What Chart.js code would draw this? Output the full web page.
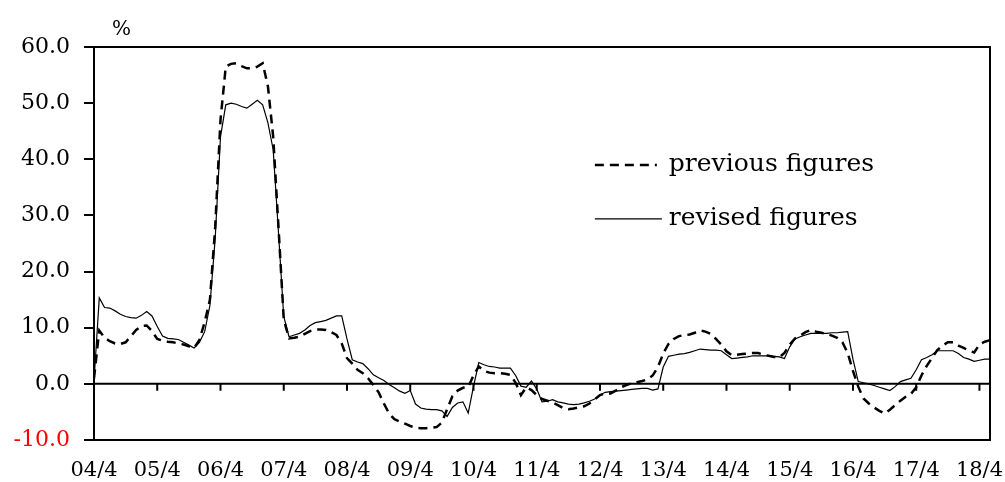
<!DOCTYPE html>
<html>
<head>
<meta charset="utf-8">
<script src="https://cdn.jsdelivr.net/npm/chart.js@4/dist/chart.umd.min.js"></script>
<style>
  html, body { margin: 0; padding: 0; background: #fff; }
  #wrap { position: relative; width: 1005px; height: 482px; }
</style>
</head>
<body>
<div id="wrap"><canvas id="grafica"></canvas></div>
<script>
// monthly data, 04/4 .. 18/6
const years = ['04','05','06','07','08','09','10','11','12','13','14','15','16','17','18'];
const tickLabels = ['04/4','05/4','06/4','07/4','08/4','09/4','10/4','11/4','12/4','13/4','14/4','15/4','16/4','17/4','18/4'];

const revised = [
  0.5, 15.3, 13.6, 13.5, 13.0, 12.4, 12.0, 11.8, 11.7, 12.2, 12.9, 12.1,
  10.2, 8.5, 8.1, 8.0, 7.9, 7.4, 6.9, 6.4, 7.4, 9.3, 14.0, 26.0,
  44.0, 49.7, 50.0, 49.8, 49.4, 49.1, 49.8, 50.5, 49.7, 46.5, 41.7, 27.0,
  12.0, 8.4, 8.7, 9.0, 9.6, 10.4, 10.9, 11.1, 11.3, 11.7, 12.1, 12.1,
  8.0, 4.3, 3.9, 3.6, 2.7, 1.6, 1.1, 0.6, -0.1, -0.7, -1.3, -1.7,
  -1.2, -3.6, -4.3, -4.5, -4.6, -4.6, -4.8, -5.8, -4.2, -3.4, -3.2, -5.2,
  -0.5, 3.8, 3.4, 3.1, 3.0, 2.8, 2.8, 2.8, 1.5, -0.4, -0.6, 0.5,
  -0.9, -3.2, -3.1, -2.8, -3.2, -3.4, -3.6, -3.7, -3.6, -3.4, -3.1, -2.7,
  -2.0, -1.5, -1.4, -1.3, -1.2, -1.1, -1.0, -0.9, -0.8, -0.8, -1.1, -0.9,
  3.0, 4.9, 5.1, 5.3, 5.4, 5.6, 5.9, 6.2, 6.1, 6.0, 6.0, 5.9,
  5.2, 4.5, 4.6, 4.7, 4.8, 5.0, 5.0, 5.0, 5.0, 4.9, 4.8, 4.5,
  6.6, 8.0, 8.4, 8.7, 9.0, 9.0, 9.0, 9.0, 9.1, 9.1, 9.2, 9.3,
  4.4, 0.4, 0.2, 0.0, -0.3, -0.6, -0.9, -1.2, -0.5, 0.4, 0.7, 1.0,
  2.5, 4.3, 4.7, 5.2, 5.9, 5.9, 5.9, 5.9, 5.4, 4.7, 4.4, 4.0,
  4.2, 4.4, 4.4
];

const previous = [
  1.0, 9.5, 8.2, 7.6, 7.2, 7.1, 7.4, 8.5, 9.6, 10.3, 10.4, 9.4,
  8.0, 7.7, 7.5, 7.4, 7.2, 7.0, 6.7, 6.4, 7.8, 11.0, 15.0, 28.0,
  47.0, 56.5, 57.0, 57.1, 56.6, 56.2, 56.2, 56.5, 57.1, 53.0, 44.0, 28.0,
  11.5, 8.1, 8.2, 8.4, 8.9, 9.4, 9.7, 9.7, 9.6, 9.2, 8.7, 7.2,
  4.6, 3.6, 2.5, 1.9, 1.0, -0.2, -1.5, -3.5, -5.3, -6.3, -6.7, -7.1,
  -7.5, -7.8, -7.9, -7.9, -7.8, -7.7, -6.9, -4.5, -2.2, -1.2, -0.7, -0.6,
  1.5, 3.1, 2.3, 2.0, 1.9, 1.9, 1.8, 1.6, 0.2, -2.0, -0.6, -1.1,
  -2.0, -2.7, -3.0, -3.3, -3.8, -4.3, -4.5, -4.4, -4.2, -4.0, -3.5, -2.8,
  -2.0, -1.7, -1.7, -1.2, -0.6, -0.2, 0.1, 0.3, 0.5, 0.8, 1.5, 3.0,
  5.4, 7.1, 8.0, 8.5, 8.7, 8.8, 9.1, 9.5, 9.3, 8.9, 8.0, 7.0,
  5.8, 5.1, 5.2, 5.3, 5.4, 5.5, 5.5, 5.2, 5.0, 4.8, 4.7, 5.5,
  7.0, 8.1, 8.6, 9.2, 9.6, 9.3, 9.1, 8.9, 8.6, 8.2, 7.4, 5.5,
  2.3, -0.5, -2.6, -3.5, -4.2, -4.8, -5.3, -4.6, -3.8, -3.0, -2.3, -1.8,
  -0.6, 1.5, 3.2, 4.6, 6.0, 6.8, 7.4, 7.4, 6.8, 6.4, 5.9, 5.6,
  7.0, 7.5, 7.8
];

// etiquetas mensuales (fiscal year starts in April)
const meses = [];
years.forEach(y => {
  for (let m = 4; m <= 15; m++) {
    const mm = m > 12 ? m - 12 : m;
    const yy = m > 12 ? String(Number(y) + 1).padStart(2, '0') : y;
    meses.push(yy + '/' + mm);
  }
});
meses.length = revised.length;

const serif = 'DejaVu Serif';

// frame, zero line, ticks on zero line, legend and unit
const extras = {
  id: 'extras',
  afterDatasetsDraw(chart) {
    const { ctx, chartArea: a, scales: { x, y } } = chart;
    ctx.save();
    ctx.strokeStyle = '#000';
    ctx.lineWidth = 2;
    ctx.strokeRect(a.left, a.top, a.right - a.left, a.bottom - a.top);
    const y0 = y.getPixelForValue(0);
    ctx.beginPath();
    ctx.moveTo(a.left, y0);
    ctx.lineTo(a.right, y0);
    for (let i = 0; i < meses.length; i += 12) {
      const px = x.getPixelForValue(i);
      ctx.moveTo(px, y0);
      ctx.lineTo(px, y0 + 7);
    }
    ctx.stroke();

    // leyenda
    const lx = a.left + 0.559 * (a.right - a.left);
    const ly1 = y.getPixelForValue(39);
    const ly2 = y.getPixelForValue(29.4);
    ctx.lineWidth = 2.5;
    ctx.setLineDash([9, 6]);
    ctx.beginPath();
    ctx.moveTo(lx, ly1);
    ctx.lineTo(lx + 62, ly1);
    ctx.stroke();
    ctx.setLineDash([]);
    ctx.lineWidth = 1.2;
    ctx.beginPath();
    ctx.moveTo(lx, ly2);
    ctx.lineTo(lx + 67, ly2);
    ctx.stroke();
    ctx.fillStyle = '#000';
    ctx.font = '25px "' + serif + '"';
    ctx.textBaseline = 'middle';
    ctx.fillText('previous figures', lx + 74, ly1);
    ctx.fillText('revised figures', lx + 74, ly2);

    ctx.font = '20px "' + serif + '"';
    ctx.fillText('%', a.left + 18, a.top - 17);
    ctx.restore();
  }
};

const ctx1 = document.getElementById('grafica');
new Chart(ctx1, {
  type: 'line',
  data: {
    labels: meses,
    datasets: [
      {
        label: 'previous figures',
        data: previous,
        borderColor: '#000',
        borderWidth: 2.5,
        borderDash: [9, 6],
        pointRadius: 0,
        tension: 0,
        fill: false
      },
      {
        label: 'revised figures',
        data: revised,
        borderColor: '#000',
        borderWidth: 1.2,
        pointRadius: 0,
        tension: 0,
        fill: false
      }
    ]
  },
  options: {
    responsive: true,
    maintainAspectRatio: false,
    animation: false,
    devicePixelRatio: 1,
    layout: { padding: { top: 47, right: 15, left: 0, bottom: 0 } },
    plugins: {
      legend: { display: false },
      tooltip: { enabled: false }
    },
    scales: {
      x: {
        type: 'category',
        offset: false,
        grid: { display: false },
        border: { display: false },
        afterFit: s => { s.height = 42; s.paddingLeft = 0; s.paddingRight = 0; },
        ticks: {
          autoSkip: false,
          maxRotation: 0,
          padding: 10,
          color: '#000',
          font: { family: serif, size: 21 },
          callback: (v, i) => (i % 12 === 0 ? tickLabels[i / 12] : null)
        }
      },
      y: {
        min: -10,
        max: 60,
        afterFit: s => { s.width = 94; },
        grid: {
          drawOnChartArea: false,
          drawTicks: true,
          tickLength: 10,
          color: '#000',
          lineWidth: 2
        },
        border: { display: false },
        ticks: {
          stepSize: 10,
          padding: 14,
          font: { family: serif, size: 22 },
          color: c => (c.tick && c.tick.value < 0 ? '#ff0000' : '#000'),
          callback: v => v.toFixed(1)
        }
      }
    }
  },
  plugins: [extras]
});
</script>
</body>
</html>
